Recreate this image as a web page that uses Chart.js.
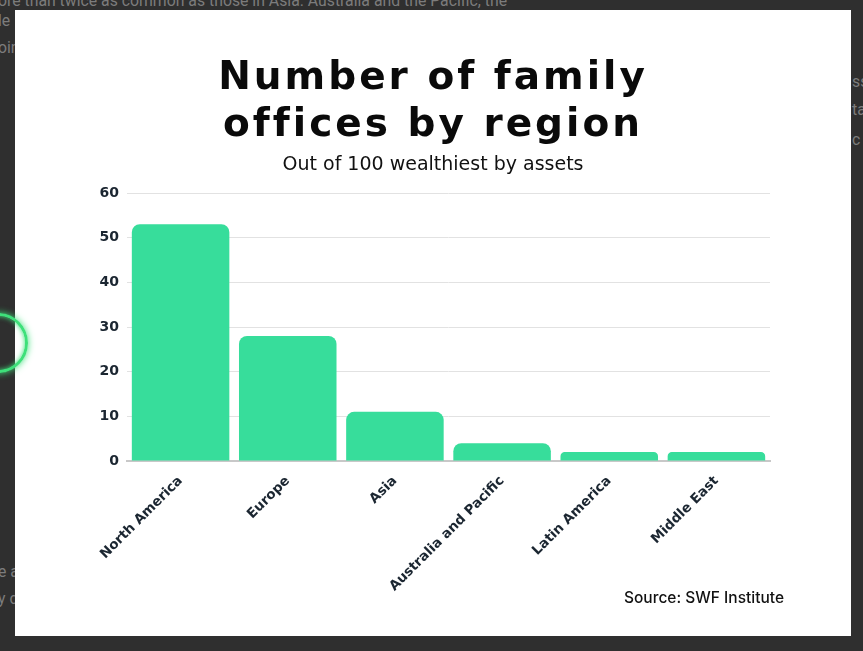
<!DOCTYPE html>
<html><head><meta charset="utf-8">
<script src="https://cdn.jsdelivr.net/npm/chart.js@4/dist/chart.umd.min.js"></script>
<style>
html,body{margin:0;padding:0;width:863px;height:651px;overflow:hidden;background:#2f2f2f;}
.bg{position:absolute;color:#7c7c7c;font-family:Roboto,sans-serif;font-size:15.8px;white-space:nowrap;line-height:20px;}
#panel{position:absolute;left:15px;top:10px;width:836px;height:626px;background:#fff;z-index:1;}
#ring{position:absolute;left:-32px;top:313px;width:54px;height:54px;border-radius:50%;border:3px solid #3ee07a;box-shadow:0 0 7px #3ee07a, inset 0 0 5px #3ee07a;z-index:2;}
#title{position:absolute;left:0;width:836px;top:42px;text-align:center;font-family:"DejaVu Sans",sans-serif;font-weight:700;font-size:39px;line-height:47px;letter-spacing:3px;color:#0a0a0a;}
#subtitle{position:absolute;left:0;width:836px;top:142px;text-align:center;font-family:"DejaVu Sans",sans-serif;font-size:19px;line-height:22px;color:#111;}
#src{position:absolute;right:67px;top:578px;font-family:Inter,sans-serif;font-weight:500;font-size:15.5px;color:#111;}
canvas{position:absolute;left:0;top:0;}
</style></head>
<body>
<div class="bg" style="left:-2px;top:-9px;">ore than twice as common as those in Asia. Australia and the Pacific, the</div>
<div class="bg" style="left:-2px;top:11px;">le</div>
<div class="bg" style="left:-2px;top:38px;">oin</div>
<div class="bg" style="left:852px;top:72px;">ss</div>
<div class="bg" style="left:852px;top:100px;">ta</div>
<div class="bg" style="left:852px;top:130px;">c</div>
<div class="bg" style="left:-2px;top:562px;">e a</div>
<div class="bg" style="left:-2px;top:589px;">y c</div>
<div id="ring"></div>
<div id="panel">
  <canvas id="c" width="836" height="626"></canvas>
  <div id="title"></div>
  <div id="subtitle"></div>
  <div id="src"></div>
</div>
<script>
const categories = ["North America","Europe","Asia","Australia and Pacific","Latin America","Middle East"];
const officeCounts = [53, 28, 11, 4, 2, 2];
const yTickValues = [0, 10, 20, 30, 40, 50, 60];
const titleLines = ["Number of family","offices by region"];
const subtitleText = "Out of 100 wealthiest by assets";
const sourceText = "Source: SWF Institute";

document.getElementById('title').innerHTML = titleLines.join('<br>');
document.getElementById('subtitle').textContent = subtitleText;
document.getElementById('src').textContent = sourceText;

new Chart(document.getElementById('c'), {
  type: 'bar',
  data: { labels: categories, datasets: [{ data: officeCounts, backgroundColor: '#37dd9b', borderRadius: {topLeft:8, topRight:8}, borderSkipped: 'bottom', barPercentage: 0.91, categoryPercentage: 1.0 }] },
  options: {
    responsive: false, animation: false, devicePixelRatio: 1,
    layout: { padding: { top: 183, right: 81, bottom: 0, left: 67 } },
    plugins: { legend: { display: false }, tooltip: { enabled: false } },
    scales: {
      y: { min: yTickValues[0], max: yTickValues[yTickValues.length-1],
           afterBuildTicks: s => { s.ticks = yTickValues.map(v => ({ value: v })); },
           afterFit: s => { s.width = 45; },
           ticks: { color: '#1b2631', padding: 8, font: { family: 'DejaVu Sans', size: 14, weight: 700 } },
           grid: { color: '#e2e2e2', drawTicks: false }, border: { display: false } },
      x: { afterFit: s => { s.height = 175; },
           ticks: { color: '#1b2631', maxRotation: 45, minRotation: 45, padding: 4, font: { family: 'DejaVu Sans', size: 13.5, weight: 700 } },
           grid: { display: false }, border: { display: true, color: '#c8c8c8', width: 2 } }
    }
  }
});
</script>
</body></html>
